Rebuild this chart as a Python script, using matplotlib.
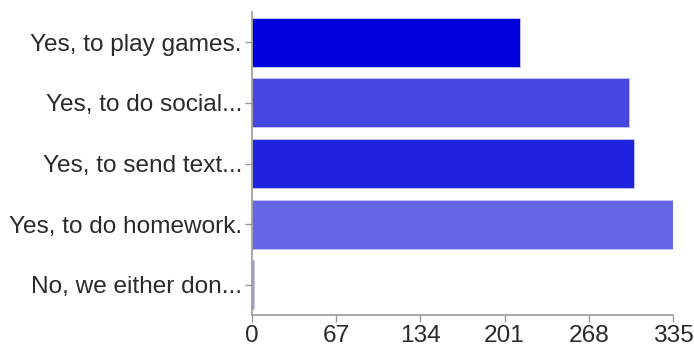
import matplotlib.pyplot as plt

# === Daten ===
categories = [
    "Yes, to play games.",
    "Yes, to do social...",
    "Yes, to send text...",
    "Yes, to do homework.",
    "No, we either don...",
]
values = [213, 300, 304, 335, 2]
bar_colors = ["#0000dd", "#4646e0", "#2121e0", "#6565e6", "#9a9af0"]
x_ticks = [0, 67, 134, 201, 268, 335]

plt.rcParams['font.family'] = ['Liberation Sans', 'DejaVu Sans']

fig = plt.figure(figsize=(6.94, 3.52), dpi=100)
ax = fig.add_axes([0.3627, 0.105, 0.6075, 0.861])

pos = list(range(len(categories)))
ax.barh(pos, values, height=0.81, color=bar_colors,
        edgecolor="#c8c8f4", linewidth=0.6)

ax.set_ylim(len(categories) - 0.5, -0.5)
ax.set_xlim(0, 335)
ax.set_yticks(pos)
ax.set_yticklabels(categories, fontsize=17.6, color="#2a2a2a")
ax.set_xticks(x_ticks)
ax.set_xticklabels([str(t) for t in x_ticks], fontsize=17.6, color="#2a2a2a")

for s in ["top", "right"]:
    ax.spines[s].set_visible(False)
for s in ["left", "bottom"]:
    ax.spines[s].set_color("#999999")
    ax.spines[s].set_linewidth(1.2)
ax.tick_params(axis="y", colors="#999999", length=5, width=1,
               labelcolor="#2a2a2a", pad=2)
ax.tick_params(axis="x", colors="#999999", length=5, width=1,
               labelcolor="#2a2a2a", pad=2)

fig.savefig("out.png", dpi=100)
